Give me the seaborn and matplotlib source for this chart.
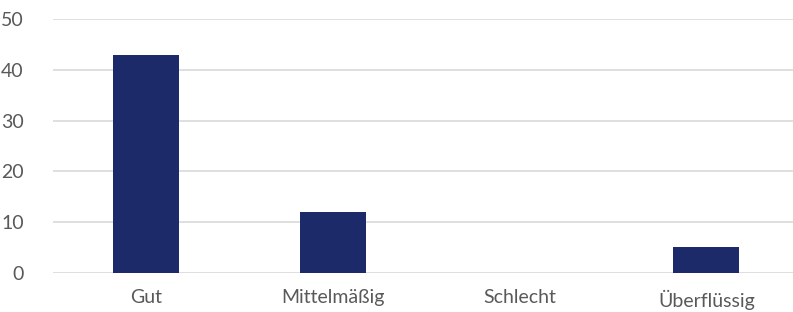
import matplotlib
matplotlib.use('Agg')
import matplotlib.pyplot as plt
import seaborn as sns
import pandas as pd

categories = ['Gut', 'Mittelmäßig', 'Schlecht', 'Überflüssig']
values = [43, 12, 0, 5]

sns.set_theme(style='white')
plt.rcParams['font.family'] = ['Lato', 'DejaVu Sans']

df = pd.DataFrame({'kategorie': categories, 'anzahl': values})

fig = plt.figure(figsize=(7.93, 3.12), dpi=100)
ax = fig.add_axes([52.9 / 793, 39.3 / 312, 746.8 / 793, 253.4 / 312])

sns.barplot(data=df, x='kategorie', y='anzahl', color='#1c2a6a', width=0.355,
            saturation=1, ax=ax, zorder=3, edgecolor='none')

ax.set_ylim(0, 50)
ax.set_yticks(range(0, 51, 10))
ax.yaxis.grid(True, color='#d9d9d9', linewidth=1.2, zorder=0)
ax.set_axisbelow(True)
for s in ax.spines.values():
    s.set_visible(False)
ax.set_xlabel('')
ax.set_ylabel('')
ax.tick_params(axis='both', length=0, labelsize=14, labelcolor='#595959')
ax.tick_params(axis='y', pad=21)
ax.tick_params(axis='x', pad=12)
for lbl in ax.get_yticklabels():
    lbl.set_horizontalalignment('right')

fig.savefig('out.png', dpi=100)
